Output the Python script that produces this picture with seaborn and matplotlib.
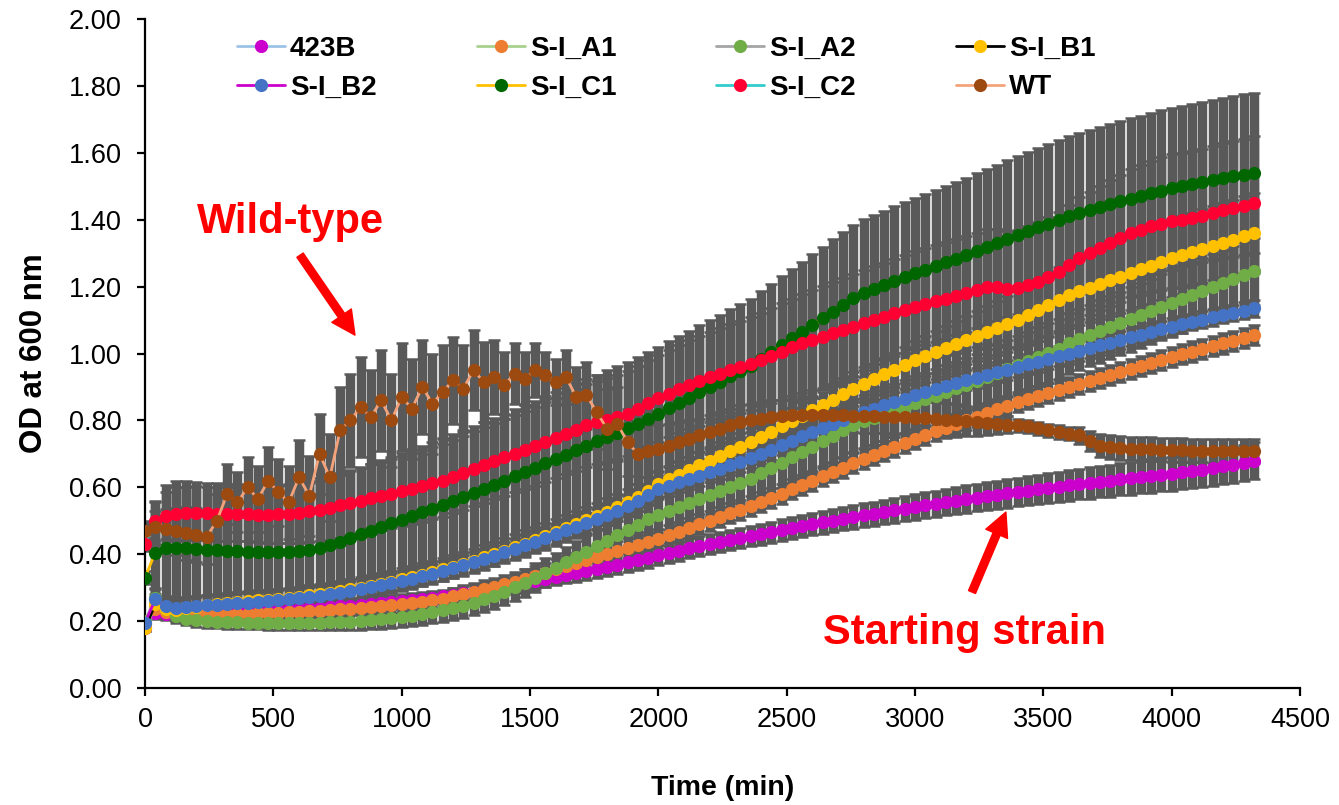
import numpy as np
import pandas as pd
import matplotlib
matplotlib.use("Agg")
import matplotlib.pyplot as plt
import seaborn as sns

# sampling times (min), one reading every 40 min over 72 h
time_min = np.arange(0, 4321, 40)

# mean OD600 per strain, rows of 10 readings (0-360, 400-760, ... , 4000-4320)
od_423b = [0.18, 0.225, 0.222, 0.22, 0.221, 0.222, 0.223, 0.225, 0.226, 0.228,
           0.23, 0.231, 0.233, 0.234, 0.235, 0.237, 0.238, 0.24, 0.242, 0.244,
           0.246, 0.248, 0.251, 0.254, 0.257, 0.26, 0.263, 0.266, 0.27, 0.274,
           0.278, 0.283, 0.288, 0.293, 0.298, 0.303, 0.309, 0.315, 0.321, 0.327,
           0.333, 0.339, 0.345, 0.351, 0.357, 0.363, 0.369, 0.376, 0.383, 0.39,
           0.397, 0.404, 0.411, 0.418, 0.424, 0.43, 0.436, 0.442, 0.448, 0.454,
           0.46, 0.466, 0.472, 0.478, 0.484, 0.49, 0.495, 0.50, 0.506, 0.511,
           0.516, 0.521, 0.526, 0.531, 0.536, 0.541, 0.546, 0.551, 0.556, 0.56,
           0.565, 0.569, 0.574, 0.578, 0.582, 0.586, 0.59, 0.594, 0.598, 0.602,
           0.606, 0.61, 0.613, 0.617, 0.62, 0.624, 0.627, 0.631, 0.634, 0.638,
           0.641, 0.645, 0.649, 0.653, 0.658, 0.663, 0.668, 0.674, 0.68]
od_a1 = [0.19, 0.235, 0.226, 0.222, 0.221, 0.22, 0.22, 0.22, 0.221, 0.221,
         0.222, 0.223, 0.224, 0.225, 0.226, 0.228, 0.229, 0.231, 0.233, 0.235,
         0.237, 0.239, 0.241, 0.244, 0.247, 0.25, 0.254, 0.258, 0.262, 0.266,
         0.275, 0.281, 0.288, 0.295, 0.302, 0.31, 0.318, 0.327, 0.336, 0.345,
         0.355, 0.364, 0.373, 0.382, 0.391, 0.40, 0.409, 0.418, 0.427, 0.436,
         0.445, 0.456, 0.467, 0.478, 0.489, 0.50, 0.511, 0.522, 0.533, 0.544,
         0.555, 0.568, 0.581, 0.594, 0.607, 0.62, 0.633, 0.646, 0.659, 0.672,
         0.685, 0.697, 0.709, 0.721, 0.733, 0.745, 0.756, 0.767, 0.778, 0.789,
         0.80, 0.811, 0.822, 0.833, 0.844, 0.855, 0.864, 0.873, 0.882, 0.891,
         0.90, 0.909, 0.918, 0.927, 0.936, 0.945, 0.954, 0.963, 0.972, 0.981,
         0.99, 0.998, 1.006, 1.014, 1.022, 1.03, 1.038, 1.046, 1.055]
od_a2 = [0.20, 0.27, 0.235, 0.215, 0.207, 0.203, 0.2, 0.198, 0.197, 0.196,
         0.195, 0.195, 0.194, 0.194, 0.194, 0.194, 0.195, 0.195, 0.196, 0.197,
         0.198, 0.2, 0.202, 0.205, 0.208, 0.212, 0.216, 0.221, 0.226, 0.232,
         0.238, 0.246, 0.255, 0.265, 0.276, 0.288, 0.301, 0.315, 0.33, 0.345,
         0.36, 0.376, 0.392, 0.408, 0.424, 0.44, 0.456, 0.472, 0.488, 0.504,
         0.517, 0.529, 0.541, 0.553, 0.565, 0.577, 0.589, 0.601, 0.613, 0.625,
         0.642, 0.658, 0.674, 0.69, 0.706, 0.722, 0.738, 0.754, 0.77, 0.785,
         0.797, 0.808, 0.819, 0.83, 0.841, 0.852, 0.863, 0.874, 0.885, 0.896,
         0.907, 0.918, 0.93, 0.942, 0.954, 0.966, 0.978, 0.99, 1.002, 1.014,
         1.03, 1.042, 1.054, 1.066, 1.078, 1.09, 1.102, 1.114, 1.126, 1.138,
         1.15, 1.162, 1.174, 1.186, 1.198, 1.21, 1.222, 1.234, 1.246]
od_b1 = [0.18, 0.25, 0.235, 0.232, 0.238, 0.243, 0.247, 0.251, 0.254, 0.257,
         0.26, 0.262, 0.264, 0.267, 0.27, 0.273, 0.277, 0.281, 0.285, 0.29,
         0.295, 0.30, 0.306, 0.312, 0.318, 0.325, 0.332, 0.339, 0.347, 0.355,
         0.363, 0.372, 0.381, 0.391, 0.401, 0.411, 0.421, 0.432, 0.443, 0.454,
         0.465, 0.477, 0.489, 0.501, 0.514, 0.527, 0.54, 0.555, 0.57, 0.59,
         0.61, 0.624, 0.638, 0.652, 0.666, 0.68, 0.694, 0.708, 0.722, 0.736,
         0.75, 0.766, 0.782, 0.798, 0.814, 0.83, 0.846, 0.862, 0.878, 0.894,
         0.91, 0.924, 0.938, 0.952, 0.966, 0.98, 0.992, 1.004, 1.016, 1.028,
         1.04, 1.052, 1.064, 1.076, 1.088, 1.10, 1.115, 1.13, 1.145, 1.16,
         1.175, 1.186, 1.197, 1.208, 1.219, 1.23, 1.241, 1.252, 1.263, 1.274,
         1.285, 1.294, 1.303, 1.312, 1.321, 1.33, 1.34, 1.35, 1.36]
od_b2 = [0.195, 0.265, 0.245, 0.24, 0.242, 0.245, 0.247, 0.249, 0.251, 0.253,
         0.255, 0.257, 0.259, 0.262, 0.265, 0.268, 0.272, 0.276, 0.28, 0.285,
         0.29, 0.295, 0.301, 0.307, 0.313, 0.32, 0.327, 0.334, 0.342, 0.35,
         0.358, 0.367, 0.376, 0.386, 0.396, 0.406, 0.416, 0.427, 0.438, 0.449,
         0.46, 0.471, 0.482, 0.494, 0.506, 0.518, 0.53, 0.545, 0.56, 0.578,
         0.595, 0.605, 0.615, 0.625, 0.635, 0.645, 0.655, 0.666, 0.677, 0.688,
         0.70, 0.713, 0.726, 0.739, 0.752, 0.765, 0.777, 0.789, 0.801, 0.813,
         0.825, 0.835, 0.845, 0.855, 0.865, 0.875, 0.884, 0.893, 0.902, 0.911,
         0.92, 0.928, 0.936, 0.944, 0.952, 0.96, 0.968, 0.976, 0.984, 0.992,
         1.0, 1.008, 1.016, 1.024, 1.032, 1.04, 1.048, 1.056, 1.064, 1.072,
         1.08, 1.087, 1.094, 1.101, 1.108, 1.115, 1.121, 1.128, 1.135]
od_c1 = [0.33, 0.405, 0.418, 0.42, 0.418, 0.416, 0.414, 0.412, 0.41, 0.409,
         0.408, 0.407, 0.406, 0.406, 0.407, 0.409, 0.413, 0.419, 0.427, 0.437,
         0.448, 0.459, 0.47, 0.481, 0.492, 0.503, 0.514, 0.525, 0.536, 0.548,
         0.56, 0.572, 0.584, 0.596, 0.608, 0.62, 0.633, 0.646, 0.659, 0.672,
         0.685, 0.698, 0.711, 0.724, 0.737, 0.75, 0.763, 0.776, 0.79, 0.804,
         0.82, 0.836, 0.852, 0.868, 0.884, 0.90, 0.916, 0.932, 0.948, 0.964,
         0.985, 1.005, 1.025, 1.045, 1.065, 1.085, 1.105, 1.125, 1.145, 1.165,
         1.18, 1.192, 1.204, 1.216, 1.228, 1.24, 1.251, 1.262, 1.273, 1.284,
         1.295, 1.307, 1.319, 1.331, 1.343, 1.355, 1.366, 1.377, 1.388, 1.399,
         1.41, 1.419, 1.428, 1.437, 1.446, 1.455, 1.463, 1.471, 1.479, 1.487,
         1.495, 1.501, 1.507, 1.513, 1.519, 1.525, 1.53, 1.535, 1.54]
od_c2 = [0.43, 0.50, 0.515, 0.52, 0.522, 0.523, 0.522, 0.521, 0.52, 0.52,
         0.519, 0.518, 0.518, 0.519, 0.521, 0.524, 0.528, 0.533, 0.539, 0.546,
         0.553, 0.56, 0.567, 0.574, 0.581, 0.588, 0.596, 0.604, 0.612, 0.62,
         0.632, 0.643, 0.655, 0.667, 0.679, 0.69, 0.701, 0.712, 0.723, 0.735,
         0.748, 0.76, 0.772, 0.785, 0.795, 0.802, 0.81, 0.82, 0.835, 0.852,
         0.866, 0.88, 0.893, 0.906, 0.918, 0.93, 0.94, 0.95, 0.96, 0.97,
         0.982, 0.994, 1.006, 1.018, 1.03, 1.04, 1.05, 1.06, 1.07, 1.08,
         1.09, 1.10, 1.11, 1.12, 1.13, 1.14, 1.148, 1.156, 1.164, 1.172,
         1.18, 1.19, 1.20, 1.198, 1.192, 1.195, 1.205, 1.215, 1.23, 1.245,
         1.265, 1.285, 1.30, 1.315, 1.33, 1.345, 1.36, 1.37, 1.38, 1.388,
         1.395, 1.40, 1.405, 1.412, 1.42, 1.428, 1.435, 1.442, 1.45]
od_wt = [0.47, 0.48, 0.475, 0.468, 0.462, 0.458, 0.452, 0.50, 0.58, 0.555,
         0.60, 0.565, 0.62, 0.585, 0.555, 0.63, 0.575, 0.70, 0.63, 0.77,
         0.80, 0.84, 0.81, 0.86, 0.80, 0.87, 0.835, 0.90, 0.85, 0.885,
         0.92, 0.895, 0.95, 0.915, 0.93, 0.905, 0.94, 0.925, 0.95, 0.935,
         0.915, 0.93, 0.87, 0.875, 0.825, 0.775, 0.79, 0.735, 0.70, 0.71,
         0.715, 0.725, 0.735, 0.745, 0.755, 0.765, 0.775, 0.785, 0.795, 0.80,
         0.805, 0.81, 0.812, 0.815, 0.815, 0.816, 0.816, 0.815, 0.815, 0.814,
         0.813, 0.812, 0.811, 0.81, 0.809, 0.808, 0.806, 0.804, 0.802, 0.80,
         0.797, 0.794, 0.791, 0.789, 0.787, 0.785, 0.782, 0.776, 0.77, 0.765,
         0.76, 0.755, 0.738, 0.725, 0.72, 0.718, 0.716, 0.715, 0.714, 0.713,
         0.712, 0.711, 0.71, 0.71, 0.709, 0.709, 0.708, 0.708, 0.708]

# standard deviations, same layout
sd_423b = [0.01, 0.02, 0.02, 0.02, 0.02, 0.02, 0.02, 0.02, 0.02, 0.02,
           0.02, 0.02, 0.02, 0.02, 0.02, 0.02, 0.02, 0.02, 0.02, 0.02,
           0.02, 0.02, 0.02, 0.02, 0.02, 0.02, 0.02, 0.02, 0.02, 0.02,
           0.021, 0.021, 0.022, 0.022, 0.023, 0.023, 0.024, 0.024, 0.025, 0.025,
           0.026, 0.026, 0.027, 0.027, 0.028, 0.028, 0.029, 0.029, 0.03, 0.03,
           0.03, 0.03, 0.03, 0.03, 0.03, 0.03, 0.03, 0.03, 0.03, 0.03,
           0.031, 0.031, 0.032, 0.032, 0.033, 0.033, 0.034, 0.034, 0.035, 0.035,
           0.036, 0.036, 0.037, 0.037, 0.038, 0.038, 0.039, 0.039, 0.04, 0.04,
           0.041, 0.041, 0.042, 0.042, 0.043, 0.043, 0.044, 0.044, 0.045, 0.045,
           0.046, 0.046, 0.047, 0.047, 0.048, 0.048, 0.049, 0.049, 0.05, 0.05,
           0.051, 0.051, 0.052, 0.052, 0.053, 0.053, 0.054, 0.054, 0.055]
sd_a1 = [0.01, 0.02, 0.02, 0.02, 0.02, 0.02, 0.02, 0.02, 0.02, 0.02,
         0.02, 0.02, 0.02, 0.02, 0.02, 0.02, 0.02, 0.02, 0.02, 0.02,
         0.02, 0.021, 0.021, 0.022, 0.022, 0.023, 0.023, 0.024, 0.024, 0.025,
         0.025, 0.026, 0.026, 0.027, 0.027, 0.028, 0.028, 0.029, 0.029, 0.03,
         0.03, 0.03, 0.03, 0.03, 0.03, 0.03, 0.03, 0.03, 0.03, 0.03,
         0.03, 0.03, 0.03, 0.03, 0.03, 0.03, 0.03, 0.03, 0.03, 0.03,
         0.03, 0.03, 0.03, 0.03, 0.03, 0.03, 0.03, 0.03, 0.03, 0.03,
         0.03, 0.03, 0.03, 0.03, 0.03, 0.03, 0.03, 0.03, 0.03, 0.03,
         0.03, 0.03, 0.03, 0.03, 0.03, 0.03, 0.03, 0.03, 0.03, 0.03,
         0.03, 0.03, 0.03, 0.03, 0.03, 0.03, 0.03, 0.03, 0.03, 0.03,
         0.03, 0.03, 0.03, 0.03, 0.03, 0.03, 0.03, 0.03, 0.03]
sd_a2 = [0.01, 0.03, 0.025, 0.02, 0.02, 0.02, 0.02, 0.02, 0.02, 0.02,
         0.02, 0.02, 0.02, 0.021, 0.021, 0.022, 0.022, 0.023, 0.023, 0.024,
         0.025, 0.026, 0.027, 0.028, 0.029, 0.03, 0.031, 0.032, 0.033, 0.034,
         0.035, 0.036, 0.037, 0.038, 0.039, 0.04, 0.041, 0.042, 0.043, 0.044,
         0.045, 0.046, 0.047, 0.048, 0.049, 0.05, 0.051, 0.052, 0.053, 0.054,
         0.055, 0.057, 0.059, 0.061, 0.063, 0.065, 0.067, 0.069, 0.071, 0.073,
         0.075, 0.076, 0.077, 0.078, 0.079, 0.08, 0.08, 0.08, 0.08, 0.08,
         0.08, 0.08, 0.08, 0.08, 0.08, 0.08, 0.08, 0.08, 0.08, 0.08,
         0.081, 0.082, 0.083, 0.084, 0.085, 0.086, 0.087, 0.088, 0.089, 0.09,
         0.09, 0.091, 0.092, 0.093, 0.094, 0.095, 0.096, 0.097, 0.098, 0.099,
         0.1, 0.1, 0.1, 0.1, 0.1, 0.1, 0.1, 0.1, 0.1]
sd_b1 = [0.01, 0.03, 0.03, 0.03, 0.03, 0.03, 0.03, 0.03, 0.03, 0.03,
         0.03, 0.03, 0.03, 0.03, 0.03, 0.03, 0.03, 0.03, 0.03, 0.03,
         0.03, 0.031, 0.031, 0.032, 0.032, 0.033, 0.033, 0.034, 0.034, 0.035,
         0.035, 0.036, 0.036, 0.037, 0.037, 0.038, 0.038, 0.039, 0.039, 0.04,
         0.04, 0.04, 0.04, 0.04, 0.04, 0.04, 0.04, 0.04, 0.04, 0.04,
         0.04, 0.04, 0.04, 0.04, 0.04, 0.04, 0.04, 0.04, 0.04, 0.04,
         0.04, 0.04, 0.04, 0.04, 0.04, 0.04, 0.04, 0.04, 0.04, 0.04,
         0.042, 0.045, 0.048, 0.051, 0.054, 0.057, 0.06, 0.063, 0.066, 0.069,
         0.072, 0.075, 0.078, 0.081, 0.084, 0.087, 0.09, 0.093, 0.096, 0.099,
         0.1, 0.102, 0.104, 0.106, 0.108, 0.11, 0.112, 0.113, 0.114, 0.115,
         0.116, 0.117, 0.118, 0.119, 0.12, 0.12, 0.12, 0.12, 0.12]
sd_b2 = [0.01, 0.03, 0.03, 0.03, 0.03, 0.03, 0.03, 0.03, 0.03, 0.03,
         0.03, 0.03, 0.03, 0.03, 0.03, 0.03, 0.03, 0.03, 0.03, 0.03,
         0.03, 0.03, 0.03, 0.03, 0.03, 0.03, 0.03, 0.03, 0.03, 0.03,
         0.03, 0.03, 0.03, 0.03, 0.03, 0.03, 0.03, 0.03, 0.03, 0.03,
         0.03, 0.03, 0.03, 0.03, 0.03, 0.03, 0.03, 0.03, 0.03, 0.03,
         0.03, 0.03, 0.03, 0.03, 0.03, 0.03, 0.03, 0.03, 0.03, 0.03,
         0.03, 0.03, 0.03, 0.03, 0.03, 0.03, 0.03, 0.03, 0.03, 0.03,
         0.03, 0.03, 0.03, 0.03, 0.03, 0.03, 0.03, 0.03, 0.03, 0.03,
         0.03, 0.03, 0.03, 0.03, 0.03, 0.03, 0.03, 0.03, 0.03, 0.03,
         0.03, 0.029, 0.029, 0.028, 0.028, 0.027, 0.027, 0.026, 0.026, 0.026,
         0.025, 0.025, 0.025, 0.025, 0.025, 0.025, 0.025, 0.025, 0.025]
sd_c1 = [0.02, 0.15, 0.19, 0.2, 0.2, 0.2, 0.2, 0.2, 0.2, 0.2,
         0.2, 0.2, 0.2, 0.2, 0.2, 0.2, 0.2, 0.2, 0.2, 0.2,
         0.2, 0.2, 0.2, 0.2, 0.2, 0.2, 0.2, 0.2, 0.2, 0.2,
         0.2, 0.2, 0.2, 0.2, 0.2, 0.2, 0.2, 0.2, 0.2, 0.2,
         0.2, 0.2, 0.2, 0.2, 0.2, 0.2, 0.2, 0.2, 0.2, 0.2,
         0.2, 0.2, 0.2, 0.2, 0.2, 0.2, 0.2, 0.2, 0.2, 0.2,
         0.202, 0.204, 0.206, 0.208, 0.21, 0.212, 0.214, 0.216, 0.218, 0.22,
         0.221, 0.222, 0.223, 0.224, 0.225, 0.226, 0.227, 0.228, 0.229, 0.23,
         0.231, 0.232, 0.233, 0.234, 0.235, 0.236, 0.237, 0.238, 0.239, 0.24,
         0.24, 0.24, 0.24, 0.24, 0.24, 0.24, 0.24, 0.24, 0.24, 0.24,
         0.24, 0.24, 0.24, 0.24, 0.24, 0.24, 0.24, 0.24, 0.24]
sd_c2 = [0.02, 0.06, 0.07, 0.08, 0.08, 0.08, 0.08, 0.08, 0.08, 0.08,
         0.08, 0.082, 0.084, 0.086, 0.088, 0.09, 0.092, 0.094, 0.096, 0.098,
         0.1, 0.101, 0.102, 0.103, 0.104, 0.105, 0.106, 0.107, 0.108, 0.109,
         0.11, 0.111, 0.112, 0.113, 0.114, 0.115, 0.116, 0.117, 0.118, 0.119,
         0.12, 0.121, 0.122, 0.123, 0.124, 0.125, 0.126, 0.127, 0.128, 0.129,
         0.13, 0.131, 0.132, 0.133, 0.134, 0.135, 0.136, 0.137, 0.138, 0.139,
         0.14, 0.142, 0.144, 0.146, 0.148, 0.15, 0.152, 0.154, 0.156, 0.158,
         0.16, 0.161, 0.162, 0.163, 0.164, 0.165, 0.166, 0.167, 0.168, 0.169,
         0.17, 0.171, 0.172, 0.173, 0.174, 0.175, 0.176, 0.177, 0.178, 0.179,
         0.18, 0.182, 0.184, 0.186, 0.188, 0.19, 0.192, 0.194, 0.196, 0.198,
         0.2, 0.2, 0.2, 0.2, 0.2, 0.2, 0.2, 0.2, 0.2]
sd_wt = [0.03, 0.05, 0.06, 0.07, 0.08, 0.08, 0.08, 0.08, 0.09, 0.09,
         0.09, 0.1, 0.1, 0.1, 0.11, 0.11, 0.12, 0.12, 0.13, 0.13,
         0.14, 0.15, 0.14, 0.15, 0.14, 0.16, 0.15, 0.14, 0.15, 0.14,
         0.13, 0.13, 0.12, 0.12, 0.11, 0.1, 0.09, 0.08, 0.08, 0.07,
         0.07, 0.08, 0.09, 0.1, 0.11, 0.12, 0.11, 0.1, 0.09, 0.08,
         0.07, 0.065, 0.06, 0.055, 0.05, 0.05, 0.05, 0.05, 0.05, 0.05,
         0.05, 0.05, 0.05, 0.05, 0.05, 0.05, 0.05, 0.05, 0.05, 0.05,
         0.05, 0.05, 0.05, 0.05, 0.05, 0.05, 0.05, 0.05, 0.05, 0.05,
         0.045, 0.04, 0.035, 0.03, 0.025, 0.02, 0.02, 0.02, 0.02, 0.02,
         0.02, 0.025, 0.03, 0.035, 0.035, 0.035, 0.035, 0.035, 0.035, 0.035,
         0.035, 0.035, 0.035, 0.035, 0.035, 0.035, 0.035, 0.035, 0.035]

strains = ["423B", "S-I_A1", "S-I_A2", "S-I_B1", "S-I_B2", "S-I_C1", "S-I_C2", "WT"]
means = [od_423b, od_a1, od_a2, od_b1, od_b2, od_c1, od_c2, od_wt]
sds = [sd_423b, sd_a1, sd_a2, sd_b1, sd_b2, sd_c1, sd_c2, sd_wt]
line_colors = ["#9DC3E6", "#A9D18E", "#A5A5A5", "#000000",
               "#CC00CC", "#FFC000", "#33CCCC", "#F4A27A"]
marker_colors = ["#CC00CC", "#ED7D31", "#70AD47", "#FFC000",
                 "#4472C4", "#006600", "#FF0033", "#9C4A10"]

sns.set_style("white")
plt.rcParams["font.family"] = ["Liberation Sans", "DejaVu Sans"]
plt.rcParams["text.color"] = "black"
plt.rcParams["axes.labelcolor"] = "black"

fig = plt.figure(figsize=(13.39, 8.05), dpi=100)
ax = fig.add_axes([0.1083, 0.1453, 0.8626, 0.8311])

# error bars first, so every marker sits on top of the grey
for m, s in zip(means, sds):
    ax.errorbar(time_min, m, yerr=s, fmt="none", ecolor="#595959",
                elinewidth=6.8, capsize=4.5, capthick=1.8, zorder=2)

for i, (name, m) in enumerate(zip(strains, means)):
    sns.lineplot(x=time_min, y=m, ax=ax, color=line_colors[i], lw=2,
                 marker="o", markersize=9.5, markerfacecolor=marker_colors[i],
                 markeredgecolor=marker_colors[i], markeredgewidth=0,
                 label=name, zorder=3 + i, errorbar=None)

ax.set_xlim(0, 4500)
ax.set_ylim(0, 2.0)
ax.set_xticks(range(0, 4501, 500))
ax.set_yticks(np.arange(0, 2.01, 0.2))
ax.set_yticklabels([f"{v:.2f}" for v in np.arange(0, 2.01, 0.2)])
for side in ["top", "right"]:
    ax.spines[side].set_visible(False)
for side in ["left", "bottom"]:
    ax.spines[side].set_color("black")
    ax.spines[side].set_linewidth(1.6)
ax.tick_params(direction="out", length=6, width=1.6, colors="black",
               labelsize=19.5, left=True, bottom=True)
ax.tick_params(axis="x", pad=8)
ax.tick_params(axis="y", pad=11)
ax.set_xlabel("Time (min)", fontsize=20.5, fontweight="bold", labelpad=30)
ax.set_ylabel("OD at 600 nm", fontsize=22.5, fontweight="bold", labelpad=14)

# legend is row-major in the original: reorder for column filling
h, l = ax.get_legend_handles_labels()
order = [0, 4, 1, 5, 2, 6, 3, 7]
ax.legend([h[k] for k in order], [l[k] for k in order], ncol=4,
          loc="upper left", bbox_to_anchor=(0.058, 1.012), frameon=False,
          prop={"weight": "bold", "size": 20}, handlelength=1.73,
          handletextpad=0.18, columnspacing=3.6, labelspacing=0.45)

# annotations
ax.text(565, 1.393, "Wild-type", color="red", fontsize=30, fontweight="bold",
        ha="center", va="center")
ax.annotate("", xy=(818, 1.055), xytext=(604, 1.294),
            arrowprops=dict(arrowstyle="simple,head_width=1.0,head_length=1.0,tail_width=0.32",
                            color="red", mutation_scale=17, shrinkA=0, shrinkB=0))
ax.text(3194, 0.164, "Starting strain", color="red", fontsize=30,
        fontweight="bold", ha="center", va="center")
ax.annotate("", xy=(3354, 0.526), xytext=(3222, 0.287),
            arrowprops=dict(arrowstyle="simple,head_width=1.0,head_length=1.0,tail_width=0.32",
                            color="red", mutation_scale=17, shrinkA=0, shrinkB=0))

fig.savefig("out.png", dpi=100)
